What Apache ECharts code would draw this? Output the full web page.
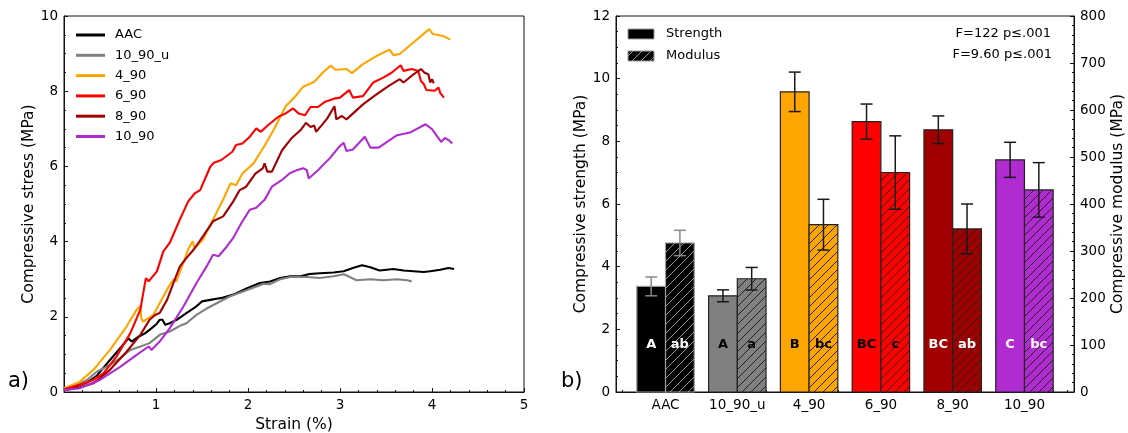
<!DOCTYPE html>
<html>
<head>
<meta charset="utf-8">
<script src="https://cdn.jsdelivr.net/npm/echarts@6/dist/echarts.min.js"></script>
<style>
  html, body { margin: 0; padding: 0; background: #fff; }
  #chart { width: 1128px; height: 433px; }
</style>
</head>
<body>
<div id="chart"></div>
<script>
// ---- a) stress–strain curves: [strain %, stress MPa] ----
const aacCurve = [[0,0.07],[0.1,0.12],[0.25,0.25],[0.355,0.43],[0.5,0.85],[0.627,1.21],[0.70,1.43],[0.735,1.34],[0.81,1.47],[0.88,1.56],[0.953,1.70],[1.007,1.81],[1.04,1.92],[1.07,1.92],[1.10,1.79],[1.15,1.83],[1.225,1.92],[1.33,2.10],[1.44,2.28],[1.50,2.41],[1.52,2.36],[1.59,2.45],[1.66,2.48],[1.73,2.51],[1.84,2.59],[1.99,2.76],[2.13,2.90],[2.24,2.94],[2.35,3.03],[2.46,3.08],[2.57,3.08],[2.67,3.14],[2.78,3.16],[2.93,3.18],[3.04,3.21],[3.14,3.30],[3.24,3.37],[3.33,3.32],[3.43,3.23],[3.58,3.27],[3.69,3.23],[3.80,3.21],[3.91,3.19],[3.98,3.21],[4.09,3.25],[4.18,3.30],[4.24,3.27]];
const u1090Curve = [[0,0.07],[0.1,0.14],[0.25,0.32],[0.355,0.54],[0.43,0.63],[0.5,0.72],[0.61,0.90],[0.72,1.12],[0.83,1.21],[0.93,1.30],[1.04,1.52],[1.15,1.61],[1.26,1.76],[1.33,1.83],[1.44,2.05],[1.55,2.22],[1.66,2.36],[1.80,2.54],[1.99,2.71],[2.13,2.84],[2.17,2.88],[2.24,2.87],[2.35,3.0],[2.46,3.06],[2.64,3.06],[2.78,3.03],[2.93,3.08],[3.04,3.13],[3.08,3.09],[3.18,2.97],[3.33,3.0],[3.47,2.97],[3.62,3.0],[3.73,2.97],[3.78,2.94]];
const c490Curve = [[0,0.1],[0.17,0.27],[0.32,0.59],[0.50,1.12],[0.68,1.74],[0.79,2.19],[0.83,2.29],[0.84,1.96],[0.86,1.87],[0.97,2.05],[1.04,2.36],[1.15,2.85],[1.19,3.0],[1.22,2.94],[1.30,3.45],[1.35,3.8],[1.40,4.01],[1.42,3.82],[1.51,4.05],[1.62,4.59],[1.73,5.12],[1.81,5.55],[1.87,5.50],[1.94,5.81],[2.06,6.08],[2.18,6.55],[2.29,7.02],[2.41,7.60],[2.51,7.85],[2.60,8.12],[2.72,8.25],[2.82,8.51],[2.90,8.68],[2.95,8.57],[3.07,8.59],[3.13,8.48],[3.25,8.72],[3.40,8.94],[3.49,9.05],[3.54,9.10],[3.58,8.96],[3.65,8.99],[3.80,9.30],[3.97,9.65],[4.01,9.52],[4.12,9.47],[4.20,9.37]];
const c690Curve = [[0,0.07],[0.17,0.19],[0.32,0.32],[0.43,0.50],[0.57,0.94],[0.72,1.56],[0.83,2.19],[0.89,3.03],[0.92,2.94],[1.01,3.21],[1.08,3.74],[1.15,3.97],[1.26,4.59],[1.35,5.07],[1.42,5.28],[1.48,5.37],[1.59,5.99],[1.63,6.10],[1.71,6.17],[1.83,6.39],[1.87,6.57],[1.94,6.61],[2.02,6.79],[2.09,7.01],[2.14,6.92],[2.22,7.10],[2.33,7.32],[2.41,7.41],[2.49,7.54],[2.55,7.41],[2.62,7.36],[2.68,7.58],[2.76,7.58],[2.84,7.72],[2.95,7.81],[3.0,7.83],[3.10,8.03],[3.14,7.83],[3.25,7.87],[3.36,8.23],[3.47,8.36],[3.56,8.49],[3.66,8.69],[3.69,8.54],[3.78,8.59],[3.85,8.54],[3.88,8.27],[3.91,8.19],[3.94,8.03],[4.03,8.01],[4.07,8.10],[4.09,7.95],[4.13,7.83]];
const c890Curve = [[0,0.05],[0.17,0.12],[0.32,0.23],[0.50,0.59],[0.68,1.07],[0.83,1.52],[0.93,1.92],[0.99,2.05],[1.04,2.10],[1.12,2.45],[1.19,2.90],[1.26,3.34],[1.33,3.56],[1.41,3.79],[1.51,4.14],[1.62,4.54],[1.73,4.67],[1.84,5.07],[1.91,5.37],[1.98,5.46],[2.08,5.81],[2.16,5.95],[2.18,6.08],[2.21,5.86],[2.26,5.86],[2.37,6.43],[2.47,6.74],[2.57,6.96],[2.63,7.16],[2.68,7.05],[2.72,7.09],[2.74,6.92],[2.80,7.09],[2.86,7.27],[2.94,7.60],[2.96,7.25],[3.02,7.34],[3.07,7.25],[3.25,7.65],[3.40,7.92],[3.53,8.14],[3.65,8.32],[3.69,8.23],[3.80,8.45],[3.88,8.59],[3.92,8.49],[3.96,8.45],[3.98,8.23],[4.0,8.32],[4.02,8.21]];
const c1090Curve = [[0,0.05],[0.17,0.1],[0.39,0.32],[0.61,0.67],[0.79,0.99],[0.92,1.21],[0.95,1.12],[1.04,1.34],[1.15,1.70],[1.30,2.28],[1.44,2.90],[1.55,3.34],[1.62,3.65],[1.68,3.61],[1.77,3.87],[1.84,4.10],[1.93,4.50],[2.02,4.85],[2.09,4.90],[2.18,5.11],[2.26,5.46],[2.37,5.64],[2.45,5.81],[2.53,5.90],[2.60,5.95],[2.64,5.90],[2.66,5.68],[2.76,5.90],[2.89,6.22],[2.99,6.52],[3.04,6.63],[3.07,6.41],[3.14,6.45],[3.27,6.79],[3.33,6.50],[3.42,6.50],[3.62,6.83],[3.76,6.90],[3.93,7.12],[4.0,6.99],[4.10,6.65],[4.14,6.76],[4.18,6.70],[4.22,6.61]];

// ---- b) group means, standard deviations and letter groupings ----
const groups = ['AAC', '10_90_u', '4_90', '6_90', '8_90', '10_90'];
const strength = [3.37, 3.07, 9.58, 8.63, 8.37, 7.41];
const strengthErr = [0.30, 0.19, 0.63, 0.56, 0.44, 0.56];
const modulus = [317, 241, 356, 467, 347, 430];
const modulusErr = [27, 24, 54, 78, 53, 58];
const strengthLetters = ['A', 'A', 'B', 'BC', 'BC', 'C'];
const modulusLetters = ['ab', 'a', 'bc', 'c', 'ab', 'bc'];
const statsLines = ['F=122 p\u2264.001', 'F=9.60 p\u2264.001'];

// palette
const groupColors = ['#000000', '#808080', '#FFA500', '#FF0000', '#A00000', '#B02CD0'];
const edgeColors = ['#9a9a9a', '#222222', '#222222', '#222222', '#222222', '#222222'];
const letterColors = ['#fff', '#000', '#000', '#000', '#fff', '#fff'];
const FONT = 'DejaVu Sans';

// diagonal "/" hatch tile
function hatchPattern(color) {
  const s = 9;
  const c = document.createElement('canvas');
  c.width = s; c.height = s;
  const g = c.getContext('2d');
  g.strokeStyle = color;
  g.lineWidth = 1;
  g.beginPath();
  g.moveTo(-1, s + 1); g.lineTo(s + 1, -1);
  g.moveTo(-1, 1); g.lineTo(1, -1);
  g.moveTo(s - 1, s + 1); g.lineTo(s + 1, s - 1);
  g.stroke();
  return { image: c, repeat: 'repeat' };
}
const hatchByGroup = edgeColors.map(hatchPattern);

const chart = echarts.init(document.getElementById('chart'), null, { renderer: 'canvas' });

function barSeries(name, values, errs, letters, offset, hatched, yAxisIndex, letterLevel) {
  return {
    name: name,
    type: 'custom',
    xAxisIndex: 1,
    yAxisIndex: yAxisIndex,
    z: 3,
    data: values.map((v, i) => [i, v, errs[i]]),
    renderItem: function (params, api) {
      const i = params.dataIndex;
      const x = api.value(0), v = api.value(1), e = api.value(2);
      const pLeft = api.coord([x + offset, 0]);
      const pRight = api.coord([x + offset + 0.4, v]);
      const rect = { x: pLeft[0], y: pRight[1], width: pRight[0] - pLeft[0], height: pLeft[1] - pRight[1] };
      const cx = (pLeft[0] + pRight[0]) / 2;
      const eTop = api.coord([x, v + e])[1];
      const eBot = api.coord([x, v - e])[1];
      const errColor = i === 0 ? '#8a8a8a' : '#1a1a1a';
      const cap = 6;
      const children = [
        { type: 'rect', shape: rect, style: { fill: groupColors[i], stroke: null } }
      ];
      if (hatched) {
        children.push({ type: 'rect', shape: rect, style: { fill: hatchByGroup[i], stroke: null } });
      }
      children.push({ type: 'rect', shape: rect, style: { fill: null, stroke: edgeColors[i], lineWidth: 1.2 } });
      children.push({ type: 'line', shape: { x1: cx, y1: eTop, x2: cx, y2: eBot }, style: { stroke: errColor, lineWidth: 1.5 } });
      children.push({ type: 'line', shape: { x1: cx - cap, y1: eTop, x2: cx + cap, y2: eTop }, style: { stroke: errColor, lineWidth: 1.5 } });
      children.push({ type: 'line', shape: { x1: cx - cap, y1: eBot, x2: cx + cap, y2: eBot }, style: { stroke: errColor, lineWidth: 1.5 } });
      const ly = api.coord([x, letterLevel])[1];
      children.push({
        type: 'text',
        style: {
          text: letters[i], x: cx, y: ly, align: 'center', verticalAlign: 'middle',
          fill: letterColors[i], font: 'bold 13px "' + FONT + '"'
        }
      });
      return { type: 'group', children: children };
    }
  };
}

function lineSeries(name, data, color) {
  return {
    name: name, type: 'line', xAxisIndex: 0, yAxisIndex: 0,
    data: data, showSymbol: false, symbol: 'none', smooth: false,
    lineStyle: { color: color, width: 2.1 }, itemStyle: { color: color },
    emphasis: { disabled: true }, animation: false
  };
}

const minorX = [];
for (let k = -3; k <= 28; k++) { minorX.push(+(k * 0.2).toFixed(1)); }

const axisTxt = { color: '#000', fontFamily: FONT, fontSize: 13.5 };
const nameTxt = { color: '#000', fontFamily: FONT, fontSize: 15.5 };
const lineBlk = { show: true, onZero: false, lineStyle: { color: '#111', width: 1 } };

const option = {
  animation: false,
  backgroundColor: '#fff',
  textStyle: { fontFamily: FONT },
  grid: [
    { left: 64, top: 16, width: 460, height: 376, show: true, borderColor: '#111', borderWidth: 1, outerBoundsMode: 'none', containLabel: false },
    { left: 616, top: 16, width: 458, height: 376, show: true, borderColor: '#111', borderWidth: 1, outerBoundsMode: 'none', containLabel: false }
  ],
  legend: {
    left: 71, top: 22, orient: 'vertical', icon: 'rect',
    itemWidth: 29, itemHeight: 3, itemGap: 4.3,
    textStyle: { fontFamily: FONT, fontSize: 13, color: '#000', lineHeight: 16, padding: [0, 0, 0, 5] },
    data: ['AAC', '10_90_u', '4_90', '6_90', '8_90', '10_90']
  },
  xAxis: [
    {
      type: 'value', gridIndex: 0, min: 0, max: 5, interval: 1,
      name: 'Strain (%)', nameLocation: 'middle', nameGap: 23, nameTextStyle: nameTxt,
      axisLine: lineBlk,
      axisTick: { inside: true, length: 4, lineStyle: { color: '#111' } },
      minorTick: { show: true, splitNumber: 5, length: 2, lineStyle: { color: '#111' } },
      axisLabel: Object.assign({ margin: 6, showMinLabel: false }, axisTxt),
      splitLine: { show: false }
    },
    {
      type: 'value', gridIndex: 1, min: -0.69, max: 5.69,
      axisLine: lineBlk,
      axisTick: { inside: true, length: 2, customValues: minorX, lineStyle: { color: '#111' } },
      axisLabel: Object.assign({
        margin: 6, customValues: [0, 1, 2, 3, 4, 5],
        formatter: v => groups[Math.round(v)]
      }, axisTxt),
      splitLine: { show: false }
    }
  ],
  yAxis: [
    {
      type: 'value', gridIndex: 0, min: 0, max: 10, interval: 2,
      name: 'Compressive stress (MPa)', nameLocation: 'middle', nameGap: 26, nameTextStyle: nameTxt,
      axisLine: lineBlk,
      axisTick: { inside: true, length: 4, lineStyle: { color: '#111' } },
      minorTick: { show: true, splitNumber: 4, length: 2, lineStyle: { color: '#111' } },
      axisLabel: Object.assign({ margin: 6 }, axisTxt),
      splitLine: { show: false }
    },
    {
      type: 'value', gridIndex: 1, min: 0, max: 12, interval: 2,
      name: 'Compressive strength (MPa)', nameLocation: 'middle', nameGap: 27, nameTextStyle: nameTxt,
      axisLine: lineBlk,
      axisTick: { inside: true, length: 4, lineStyle: { color: '#111' } },
      minorTick: { show: true, splitNumber: 4, length: 2, lineStyle: { color: '#111' } },
      axisLabel: Object.assign({ margin: 6 }, axisTxt),
      splitLine: { show: false }
    },
    {
      type: 'value', gridIndex: 1, position: 'right', min: 0, max: 800, interval: 100,
      name: 'Compressive modulus (MPa)', nameLocation: 'middle', nameGap: 36, nameRotate: 90, nameTextStyle: nameTxt,
      axisLine: lineBlk,
      axisTick: { inside: true, length: 4, lineStyle: { color: '#111' } },
      minorTick: { show: true, splitNumber: 5, length: 2, lineStyle: { color: '#111' } },
      axisLabel: Object.assign({ margin: 6 }, axisTxt),
      splitLine: { show: false }
    }
  ],
  graphic: [
    { type: 'text', left: 8, top: 371, style: { text: 'a)', font: '21px "' + FONT + '"', fill: '#000' } },
    { type: 'text', left: 561, top: 371, style: { text: 'b)', font: '21px "' + FONT + '"', fill: '#000' } },
    // legend of the bar panel
    { type: 'rect', shape: { x: 628, y: 29, width: 26, height: 10 }, style: { fill: '#000', stroke: '#9a9a9a', lineWidth: 1 } },
    { type: 'text', x: 666, y: 34, style: { text: 'Strength', font: '13px "' + FONT + '"', fill: '#000', verticalAlign: 'middle' } },
    { type: 'rect', shape: { x: 628, y: 51, width: 26, height: 10 }, style: { fill: '#000', stroke: null } },
    { type: 'rect', shape: { x: 628, y: 51, width: 26, height: 10 }, style: { fill: hatchByGroup[0], stroke: '#9a9a9a', lineWidth: 1 } },
    { type: 'text', x: 666, y: 56, style: { text: 'Modulus', font: '13px "' + FONT + '"', fill: '#000', verticalAlign: 'middle' } },
    { type: 'text', x: 1051, y: 34, style: { text: statsLines[0], font: '13px "' + FONT + '"', fill: '#000', align: 'right', verticalAlign: 'middle' } },
    { type: 'text', x: 1052, y: 55, style: { text: statsLines[1], font: '13px "' + FONT + '"', fill: '#000', align: 'right', verticalAlign: 'middle' } }
  ],
  series: [
    lineSeries('AAC', aacCurve, '#000000'),
    lineSeries('10_90_u', u1090Curve, '#808080'),
    lineSeries('4_90', c490Curve, '#FFA500'),
    lineSeries('6_90', c690Curve, '#FF0000'),
    lineSeries('8_90', c890Curve, '#A00000'),
    lineSeries('10_90', c1090Curve, '#B02CD0'),
    barSeries('Strength', strength, strengthErr, strengthLetters, -0.4, false, 1, 1.5),
    barSeries('Modulus', modulus, modulusErr, modulusLetters, 0, true, 2, 100)
  ]
};

chart.setOption(option);
</script>
</body>
</html>
